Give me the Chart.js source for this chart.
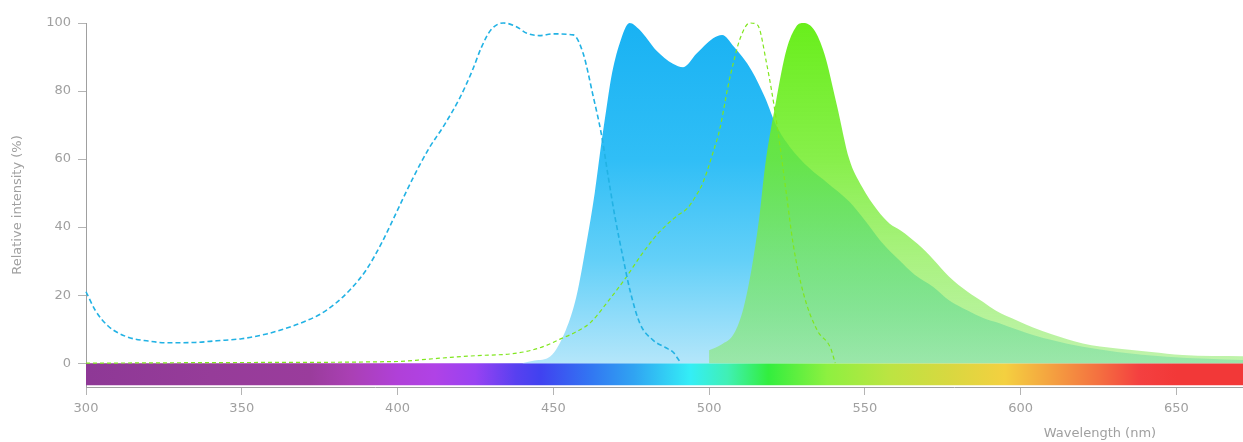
<!DOCTYPE html>
<html><head><meta charset="utf-8">
<script src="https://cdn.jsdelivr.net/npm/chart.js@4/dist/chart.umd.min.js"></script>
<style>html,body{margin:0;padding:0;background:#fff;overflow:hidden}#wrap{width:1243px;height:442px;position:relative}</style>
</head><body><div id="wrap"><canvas id="c"></canvas></div>
<script>
// ---- axis ticks ----
const xTicks = [300, 350, 400, 450, 500, 550, 600, 650];
const yTicks = [0, 20, 40, 60, 80, 100];
const xTitle = 'Wavelength (nm)';
const yTitle = 'Relative intensity (%)';

// ---- excitation, blue dye (dashed) ----
const exBlueNm  = [300, 303, 307, 313, 320, 326, 335, 342, 350, 358, 365, 370, 375, 380, 385, 390, 395, 400, 405, 410, 415, 420, 424, 427, 430, 434, 438, 441.5, 445.5, 450, 456.4, 459.6, 462.8, 465.5, 467.6, 469.8, 472.5, 474.6, 477.8, 482, 486, 488.5, 490.6];
const exBlueVal = [21, 15.5, 11, 7.8, 6.5, 6, 6.1, 6.6, 7.2, 8.6, 10.5, 12.2, 14.3, 17.5, 21.8, 27.5, 35.5, 45, 54.5, 63, 70, 78, 86, 93, 98, 100, 99, 97, 96.3, 96.8, 96.5, 91, 78.5, 67, 55, 43, 30.5, 21.5, 11.7, 6.8, 4.6, 3.2, 0.5];

// ---- excitation, green dye (dashed) ----
const exGreenNm  = [300, 350, 400, 410, 417, 425, 437, 443, 448, 452, 457.5, 462, 467, 473.5, 478, 484, 490, 493, 496, 498, 501.3, 503.5, 506, 508, 510, 513, 515.5, 518.5, 521.5, 524.8, 527, 530.3, 534.7, 539, 540.5];
const exGreenVal = [0, 0.2, 0.5, 1.2, 1.7, 2.2, 2.8, 3.8, 5.3, 7, 9.3, 12, 17.5, 25.4, 31.5, 38.5, 43.5, 45.5, 49.5, 53, 62, 69, 81, 89, 95.5, 100, 99.5, 88, 72, 50, 35, 20.5, 9.7, 4.5, 0];

// ---- emission, blue dye (filled) ----
const emBlueNm  = [440, 444, 449, 454, 457.4, 460.6, 463.3, 465.4, 467, 468.6, 471.3, 474.5, 477.7, 483, 488.4, 491.7, 496, 501.3, 504.2, 508, 513.7, 518, 521.5, 526, 532, 538, 545, 550, 555, 561, 566, 572, 577, 583, 588, 593, 599, 604, 610, 620, 631, 647, 660, 672];
const emBlueVal = [0, 0.8, 2, 9.7, 19.5, 35, 50, 64.5, 74.5, 84, 94, 100, 98, 92, 88, 87, 91, 95.5, 96.5, 93, 86, 78, 70, 63.5, 57.5, 53, 47.5, 42, 36, 30.3, 26, 22.4, 18.5, 15.5, 13.3, 11.8, 9.8, 8.3, 6.8, 4.8, 3.3, 1.9, 1.3, 0.9];

// ---- emission, green dye (filled) ----
const emGreenNm  = [500, 504, 508, 511, 513.7, 516, 518, 521.5, 524.8, 528, 530.3, 533.7, 537, 541, 545, 549, 554, 558, 561.5, 567, 572, 577, 583, 588, 592, 599, 604, 610, 620, 631, 642, 652, 672];
const emGreenVal = [3.8, 5.5, 8.7, 16, 28, 42, 58, 77, 92, 99, 100, 98, 91, 76, 60, 52, 45, 41, 39, 35, 30.5, 25.5, 21, 18, 15.5, 12.5, 10.5, 8.5, 5.8, 4.3, 3.3, 2.4, 2];

// ---- visible spectrum strip ----
const spectrumNm     = [300, 340, 372, 385, 400, 412, 425, 438, 446, 462, 476, 494, 506, 519, 538, 558, 577, 595, 609, 625, 638, 650, 672];
const spectrumColors = ['#8E3896', '#963C99', '#9A3C9C', '#AA40B4', '#B040D8', '#B042E6', '#9842F2', '#5840F0', '#4042F0', '#3276F2', '#30A4F2', '#34EEF6', '#40F0B4', '#32EE3E', '#8EF040', '#BCE442', '#D8D840', '#F4D040', '#F4A440', '#F47040', '#F44040', '#F23838', '#F23838'];
const stripDepth = -6.5;

const pts = (xs, ys) => xs.map((x, i) => ({x, y: ys[i]}));
const GREY = '#a0a0a0';
const FONT = {family: '"DejaVu Sans", sans-serif', size: 13};

function vGradient(stops) {
  return (c) => {
    const chart = c.chart; const area = chart.chartArea;
    if (!area) return 'rgba(0,0,0,0)';
    const y = chart.scales.y;
    const g = chart.ctx.createLinearGradient(0, y.getPixelForValue(100), 0, y.getPixelForValue(0));
    stops.forEach(([v, col]) => g.addColorStop(1 - v / 100, col));
    return g;
  };
}
function spectrumGradient(c) {
  const chart = c.chart; const area = chart.chartArea;
  if (!area) return 'rgba(0,0,0,0)';
  const xs = chart.scales.x;
  const x0 = xs.getPixelForValue(spectrumNm[0]);
  const x1 = xs.getPixelForValue(spectrumNm[spectrumNm.length - 1]);
  const g = chart.ctx.createLinearGradient(x0, 0, x1, 0);
  spectrumNm.forEach((nm, i) => g.addColorStop((xs.getPixelForValue(nm) - x0) / (x1 - x0), spectrumColors[i]));
  return g;
}

const xTitlePlugin = {
  id: 'xTitle',
  afterDraw(chart) {
    const ctx = chart.ctx;
    ctx.save();
    ctx.font = '13px "DejaVu Sans", sans-serif';
    ctx.fillStyle = GREY;
    ctx.textAlign = 'center';
    ctx.textBaseline = 'middle';
    ctx.fillText(xTitle, chart.width - 143, 434);
    ctx.restore();
  }
};

const line = {pointRadius: 0, cubicInterpolationMode: 'monotone', tension: 0.3, clip: 6};

new Chart(document.getElementById('c'), {
  type: 'line',
  data: {
    datasets: [
      Object.assign({label: 'Ex blue', data: pts(exBlueNm, exBlueVal), borderColor: '#22b2e4', borderWidth: 1.6, borderDash: [5, 3], fill: false, order: 1}, line),
      Object.assign({label: 'Ex green', data: pts(exGreenNm, exGreenVal), borderColor: '#80e61e', borderWidth: 1.2, borderDash: [4, 3], fill: false, order: 2}, line),
      Object.assign({label: 'Em green', data: pts(emGreenNm, emGreenVal), borderColor: 'rgba(0,0,0,0)', borderWidth: 0, fill: 'origin', order: 3,
        backgroundColor: vGradient([[100, 'rgba(100,238,20,0.97)'], [60, 'rgba(112,236,40,0.84)'], [30, 'rgba(130,236,70,0.68)'], [0, 'rgba(130,232,90,0.5)']])}, line),
      Object.assign({label: 'Em blue', data: pts(emBlueNm, emBlueVal), borderColor: 'rgba(0,0,0,0)', borderWidth: 0, fill: 'origin', order: 4,
        backgroundColor: vGradient([[100, 'rgb(25,178,243)'], [60, 'rgb(48,190,246)'], [30, 'rgb(100,208,248)'], [0, 'rgb(180,230,250)']])}, line),
      {label: 'Spectrum', data: [{x: spectrumNm[0], y: stripDepth}, {x: spectrumNm[spectrumNm.length - 1], y: stripDepth}], pointRadius: 0,
        borderColor: 'rgba(0,0,0,0)', borderWidth: 0, fill: 'origin', backgroundColor: spectrumGradient, order: 5, tension: 0}
    ]
  },
  options: {
    responsive: true, maintainAspectRatio: false, animation: false, devicePixelRatio: 1,
    layout: {padding: {top: 23, right: 0, left: 0, bottom: 0}},
    plugins: {legend: {display: false}, tooltip: {enabled: false}},
    events: [],
    scales: {
      x: {
        type: 'linear', min: 300, max: 671.4,
        afterBuildTicks: s => { s.ticks = xTicks.map(v => ({value: v})); },
        afterFit: s => { s.height = 55; },
        ticks: {color: GREY, font: FONT, padding: 6, maxRotation: 0, autoSkip: false},
        grid: {drawOnChartArea: false, drawTicks: true, tickLength: 8, color: '#b4b4b4'},
        border: {color: '#a0a0a0', width: 1}
      },
      y: {
        type: 'linear', min: -7, max: 100,
        afterBuildTicks: s => { s.ticks = yTicks.map(v => ({value: v})); },
        afterFit: s => { s.width = 86; },
        ticks: {color: GREY, font: FONT, padding: 7},
        grid: {drawOnChartArea: false, drawTicks: true, tickLength: 8, color: '#b4b4b4'},
        border: {color: '#a0a0a0', width: 1},
        title: {display: true, text: yTitle, color: GREY, font: FONT, padding: {top: 10, bottom: 0}}
      }
    }
  },
  plugins: [xTitlePlugin]
});
</script></body></html>
